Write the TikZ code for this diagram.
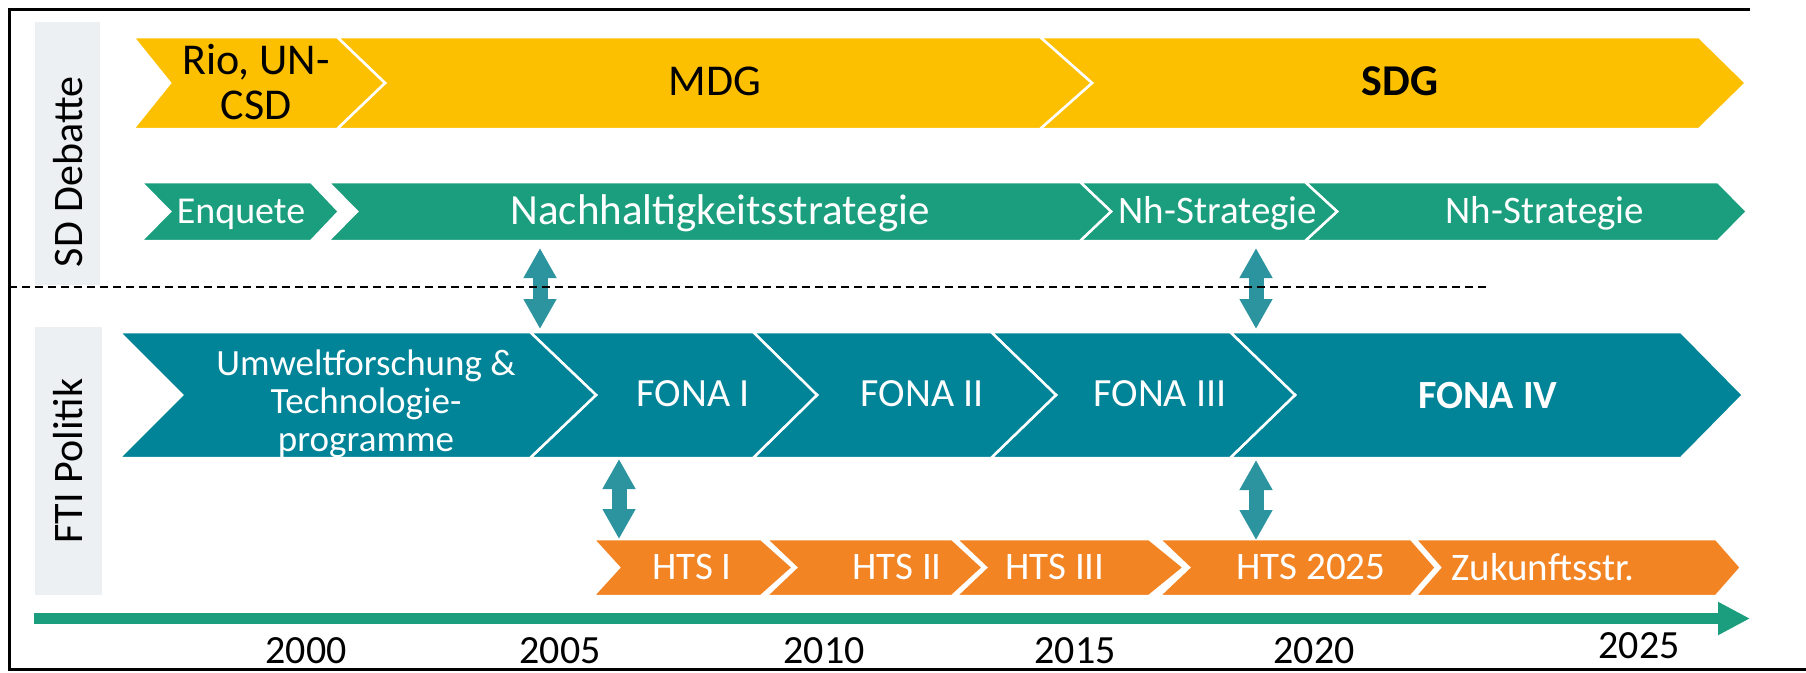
\documentclass[tikz,border=0pt]{standalone}
\usepackage{fontspec}
\setmainfont{Carlito}
\usetikzlibrary{arrows.meta}
\definecolor{sdgyellow}{RGB}{253,192,0}
\definecolor{nhgreen}{RGB}{26,158,125}
\definecolor{fonateal}{RGB}{1,132,152}
\definecolor{htsorange}{RGB}{243,132,35}
\definecolor{linkteal}{RGB}{43,148,158}
\definecolor{labelgray}{RGB}{236,240,243}
\def\chevron[#1](#2:#3:#4:#5:#6:#7){\draw[#1] (#2,#4) -- (#3,#4) -- ({#3+#7},{(#4+#5)/2}) -- (#3,#5) -- (#2,#5) -- ({#2+#6},{(#4+#5)/2}) -- cycle;}
\def\fsz#1{\fontsize{#1}{#1}\selectfont}

\begin{document}
\begin{tikzpicture}[x=1pt, y=-1pt,
	chev/.style={draw=white, line width=2.5pt},
	wtext/.style={text=white, inner sep=0pt, anchor=base},
	btext/.style={text=black, inner sep=0pt, anchor=base},
	link/.style={linkteal, line width=15pt, {Triangle[width=31pt,length=30pt]}-{Triangle[width=31pt,length=30pt]}}]
			%%%%% START %%%%%
			\useasboundingbox (0,0) rectangle (1806,672);
			
			\draw[line width=3pt] (1750,9) -- (9,9) -- (9,669) -- (1806,669);
			
			\fill[labelgray] (35,22) rectangle (100,285);
			\fill[labelgray] (35,327) rectangle (102,595);
			\node[btext, rotate=90, font=\fsz{42}] (sdlabel) at (82,172) {SD Debatte};
			\node[btext, rotate=90, font=\fsz{42}] (ftilabel) at (82,461) {FTI Politik};
			
			% SD Debatte
			\chevron[fill=sdgyellow, chev](1040:1699:37:129:52:47)
			\chevron[fill=sdgyellow, chev](337:1040:37:129:48:52)
			\chevron[fill=sdgyellow, chev](133:337:37:129:37:48)
			\node[btext, anchor=center, align=center, font=\fontsize{44}{45}\selectfont] (rio) at (256,82) {Rio, UN-\\CSD};
			\node[btext, font=\fsz{44}] (mdg) at (715,95) {MDG};
			\node[btext, font=\fsz{44}\bfseries] (sdg) at (1400,95) {SDG};
			
			\chevron[fill=nhgreen, chev](1305:1718:182:241:32:29)
			\chevron[fill=nhgreen, chev](1080:1305:182:241:31:32)
			\chevron[fill=nhgreen, chev](328:1080:182:241:29:31)
			\chevron[fill=nhgreen, chev](141:311:182:241:29:28)
			\node[wtext, font=\fsz{38}] (enquete) at (241,223) {Enquete};
			\node[wtext, font=\fsz{43}] (nhs) at (720,224) {Nachhaltigkeitsstrategie};
			\node[wtext, font=\fsz{39}] (nhs1) at (1218,223) {Nh-Strategie};
			\node[wtext, font=\fsz{39}] (nhs2) at (1545,223) {Nh-Strategie};
			
			% FTI Politik
			\chevron[fill=fonateal, chev](1230:1681:332:458:65:62)
			\chevron[fill=fonateal, chev](991:1230:332:458:65:65)
			\chevron[fill=fonateal, chev](753:991:332:458:64:65)
			\chevron[fill=fonateal, chev](530:753:332:458:66:64)
			\chevron[fill=fonateal, chev](119:530:332:458:63:66)
			\node[wtext, anchor=center, align=center, font=\fontsize{37}{38}\selectfont] (umwelt) at (366,404) {Umweltforschung \&\\Technologie-\\programme};
			\node[wtext, font=\fsz{40}] (fona1) at (693,406) {FONA I};
			\node[wtext, font=\fsz{40}] (fona2) at (922,406) {FONA II};
			\node[wtext, font=\fsz{40}] (fona3) at (1160,406) {FONA III};
			\node[wtext, font=\fsz{40}\bfseries] (fona4) at (1488,408) {FONA IV};
			
			\chevron[fill=htsorange, chev](1415:1716:539:596:25:25)
			\chevron[fill=htsorange, chev](1159:1411:539:596:30:25)
			\chevron[fill=htsorange, chev](956:1149:539:596:30:35)
			\chevron[fill=htsorange, chev](766:952:539:596:30:31)
			\chevron[fill=htsorange, chev](593:761:539:596:26:32)
			\node[wtext, font=\fsz{39}] (hts1) at (692,579) {HTS I};
			\node[wtext, font=\fsz{39}] (hts2) at (897,579) {HTS II};
			\node[wtext, font=\fsz{39}] (hts3) at (1055,579) {HTS III};
			\node[wtext, font=\fsz{39}] (hts4) at (1311,579) {HTS 2025};
			\node[wtext, font=\fsz{39}] (zukunft) at (1543,580) {Zukunftsstr.};
			
			% Verbindungen
			\coordinate (nhstop) at (540,248);
			\coordinate (umbot) at (540,329);
			\coordinate (nh1top) at (1256,248);
			\coordinate (fona4top) at (1256,329);
			\coordinate (fona1bot) at (619,459);
			\coordinate (hts1top) at (619,539);
			\coordinate (fona4bot) at (1256,460);
			\coordinate (hts4top) at (1256,540);
			\draw[link] (nhstop) -- (umbot);
			\draw[link] (nh1top) -- (fona4top);
			\draw[link] (fona1bot) -- (hts1top);
			\draw[link] (fona4bot) -- (hts4top);
			
			\draw[dash pattern=on 8pt off 5pt, line width=1.8pt] (9,287) -- (1489,287);
			
			% Zeitachse
			\coordinate (tstart) at (34,618.5);
			\coordinate (tend) at (1750,618.5);
			\draw[nhgreen, line width=11pt, -{Triangle[width=31pt,length=32pt]}] (tstart) -- (tend);
			\node[btext, font=\fsz{40}] (y2000) at (306,663) {2000};
			\node[btext, font=\fsz{40}] (y2005) at (560,663) {2005};
			\node[btext, font=\fsz{40}] (y2010) at (824,663) {2010};
			\node[btext, font=\fsz{40}] (y2015) at (1075,663) {2015};
			\node[btext, font=\fsz{40}] (y2020) at (1314,663) {2020};
			\node[btext, font=\fsz{40}] (y2025) at (1639,658) {2025};
			
			%%%%% END %%%%%
\end{tikzpicture}
\end{document}
